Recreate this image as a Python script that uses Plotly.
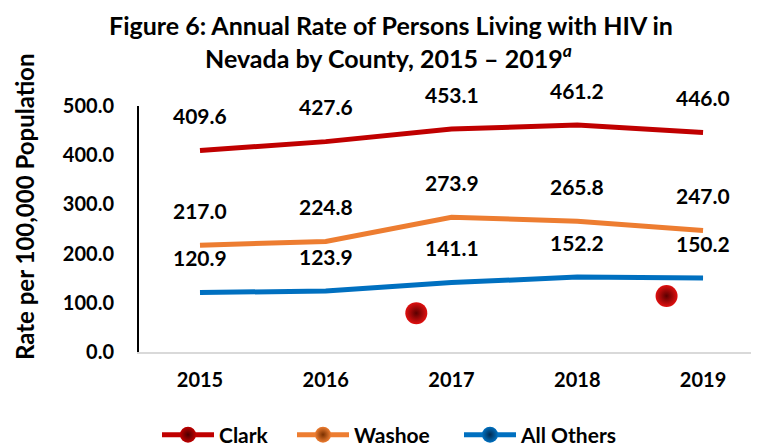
import plotly.graph_objects as go

years = ["2015", "2016", "2017", "2018", "2019"]
clark = [409.6, 427.6, 453.1, 461.2, 446.0]
washoe = [217.0, 224.8, 273.9, 265.8, 247.0]
others = [120.9, 123.9, 141.1, 152.2, 150.2]
series_names = ["Clark", "Washoe", "All Others"]
colors = ["#C00000", "#ED7D31", "#0070C0"]
edge_colors = ["#4A0000", "#7A3000", "#002A50"]
# stray sphere markers visible in the reference picture
stray_x = [1.72, 3.71]
stray_y = [79, 114]

FONT = "Lato"
xs = list(range(len(years)))
legend_ids = ["legend", "legend2", "legend3"]
legend_px = [157, 292, 459]

fig = go.Figure()
for name, vals, col, ec, lid in zip(series_names, [clark, washoe, others], colors, edge_colors, legend_ids):
    fig.add_trace(go.Scatter(x=xs, y=vals, mode="lines", line=dict(color=col, width=5),
                             showlegend=False, hoverinfo="skip"))
    fig.add_trace(go.Scatter(x=[None], y=[None], mode="lines+markers", name=name, legend=lid,
                             line=dict(color=col, width=5),
                             marker=dict(size=16, color=col, symbol="circle",
                                         gradient=dict(type="radial", color=ec),
                                         line=dict(width=0))))
    for x, v in zip(xs, vals):
        fig.add_annotation(x=x, y=v, text=f"{v:.1f}", showarrow=False, yshift=35,
                           xanchor="center", yanchor="middle",
                           font=dict(family=FONT, size=21, color="black", weight="bold"))

fig.add_trace(go.Scatter(x=stray_x, y=stray_y, mode="markers", showlegend=False, hoverinfo="skip",
                         marker=dict(size=22, color="#E01010",
                                     gradient=dict(type="radial", color="#5A0000"),
                                     line=dict(width=0))))

# plot area in window pixels: x 139..759, y 106..352
def px_x(p):
    return (p - 139) / 620

def px_y(p):
    return (352 - p) / 246

fig.add_annotation(xref="paper", yref="paper", x=px_x(391), y=px_y(25),
                   xanchor="center", yanchor="middle",
                   text="Figure 6: Annual Rate of Persons Living with HIV in", showarrow=False,
                   font=dict(family=FONT, size=25, color="black", weight="bold"))
fig.add_annotation(xref="paper", yref="paper", x=px_x(388), y=px_y(57),
                   xanchor="center", yanchor="middle",
                   text="Nevada by County, 2015 – 2019<sup><i>a</i></sup>", showarrow=False,
                   font=dict(family=FONT, size=25, color="black", weight="bold"))
fig.add_annotation(xref="paper", yref="paper", x=px_x(24), y=px_y(207),
                   xanchor="center", yanchor="middle",
                   text="Rate per 100,000 Population", showarrow=False, textangle=-90,
                   font=dict(family=FONT, size=24, color="black", weight="bold"))

legend_common = dict(orientation="h", y=px_y(435), yanchor="middle", xanchor="left",
                     itemwidth=52, font=dict(family=FONT, size=21, color="black", weight="bold"),
                     bgcolor="rgba(0,0,0,0)")

# the page body adds an 8px offset, so margins are shifted by 8px
fig.update_layout(
    width=759, height=443,
    margin=dict(l=131, r=8, t=98, b=99, autoexpand=False),
    plot_bgcolor="white", paper_bgcolor="white",
    xaxis=dict(range=[-0.485, 4.445], tickvals=xs, ticktext=years, showgrid=False, zeroline=False,
               showline=True, linecolor="#D9D9D9", linewidth=2, ticks="", ticklabelstandoff=9,
               tickfont=dict(family=FONT, size=20, color="black", weight="bold")),
    yaxis=dict(range=[0, 500], tickvals=[0, 100, 200, 300, 400, 500], tickformat=".1f",
               showgrid=False, zeroline=False, showline=True, linecolor="black", linewidth=2,
               ticks="", ticklabelstandoff=19,
               tickfont=dict(family=FONT, size=20, color="black", weight="bold")),
    legend=dict(x=px_x(legend_px[0]), **legend_common),
    legend2=dict(x=px_x(legend_px[1]), **legend_common),
    legend3=dict(x=px_x(legend_px[2]), **legend_common),
)
fig.write_html("out.html")
